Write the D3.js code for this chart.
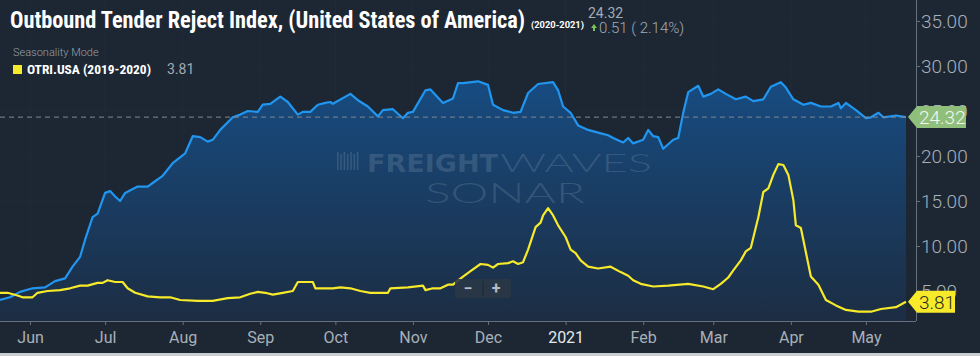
<!DOCTYPE html>
<html><head><meta charset="utf-8">
<script src="https://cdn.jsdelivr.net/npm/d3@7"></script>
<style>html,body{margin:0;padding:0;background:#1d2734;overflow:hidden} svg{display:block}</style>
</head><body>
<svg id="c" width="980" height="356"></svg>
<script>
// ---- DATA ----
const otriDates = [
"2020-05-20","2020-05-24","2020-05-28","2020-06-02","2020-06-07","2020-06-11","2020-06-15","2020-06-18","2020-06-21","2020-06-23",
"2020-06-26","2020-06-28","2020-07-01","2020-07-03","2020-07-05","2020-07-07","2020-07-09","2020-07-14","2020-07-18","2020-07-20",
"2020-07-23","2020-07-24","2020-07-28","2020-08-02","2020-08-05","2020-08-08","2020-08-11","2020-08-13","2020-08-16","2020-08-21",
"2020-08-24","2020-08-27","2020-08-31","2020-09-02","2020-09-05","2020-09-09","2020-09-12","2020-09-16","2020-09-18","2020-09-21",
"2020-09-24","2020-09-27","2020-09-29","2020-09-30","2020-10-07","2020-10-10","2020-10-14","2020-10-18","2020-10-20","2020-10-24",
"2020-10-28","2020-10-30","2020-11-01","2020-11-06","2020-11-08","2020-11-13","2020-11-17","2020-11-19","2020-11-21","2020-11-27",
"2020-12-01","2020-12-03","2020-12-07","2020-12-11","2020-12-14","2020-12-17","2020-12-21","2020-12-27","2020-12-29","2020-12-31",
"2021-01-03","2021-01-06","2021-01-10","2021-01-14","2021-01-18","2021-01-20","2021-01-24","2021-01-26","2021-01-28","2021-02-01",
"2021-02-03","2021-02-05","2021-02-07","2021-02-09","2021-02-13","2021-02-15","2021-02-17","2021-02-19","2021-02-23","2021-02-25",
"2021-02-28","2021-03-03","2021-03-06","2021-03-10","2021-03-14","2021-03-17","2021-03-21","2021-03-24","2021-03-28","2021-03-30",
"2021-04-02","2021-04-06","2021-04-09","2021-04-13","2021-04-17","2021-04-20","2021-04-21","2021-04-23","2021-04-27","2021-05-01",
"2021-05-03","2021-05-06","2021-05-08","2021-05-13","2021-05-17"];
const otriValues = [
4.0,4.3,4.9,5.3,5.4,6.1,6.4,7.7,8.8,10.7,
13.2,13.6,15.9,16.1,15.5,15.0,15.9,16.6,16.6,17.0,
17.6,17.8,19.2,20.3,22.2,22.1,21.6,21.8,22.9,24.3,
24.6,25.0,24.9,25.7,25.8,26.6,26.0,24.6,24.9,24.9,
25.7,25.9,26.0,25.8,26.9,26.2,25.5,24.4,25.1,25.2,
24.2,24.8,24.9,27.3,27.4,25.9,26.4,28.1,28.1,28.3,
27.9,25.7,25.1,24.8,24.9,27.0,28.0,28.2,27.3,25.5,
24.8,23.4,22.9,22.6,22.3,22.0,21.5,22.0,21.4,21.8,
22.9,22.2,22.1,20.8,21.8,22.0,24.8,27.1,27.8,26.6,
26.9,27.4,26.9,26.3,26.6,26.1,26.3,27.7,28.2,27.6,
26.3,25.7,25.9,25.5,25.5,25.9,25.3,25.9,25.1,24.2,
24.3,24.8,24.3,24.5,24.32];

const seasonDates = [
"2020-05-20","2020-05-23","2020-05-27","2020-05-29","2020-06-02","2020-06-04","2020-06-08","2020-06-13","2020-06-17","2020-06-21",
"2020-06-24","2020-06-28","2020-06-30","2020-07-02","2020-07-05","2020-07-08","2020-07-10","2020-07-13","2020-07-18","2020-07-23",
"2020-07-27","2020-07-31","2020-08-07","2020-08-13","2020-08-19","2020-08-24","2020-08-28","2020-08-31","2020-09-03","2020-09-06",
"2020-09-10","2020-09-14","2020-09-16","2020-09-22","2020-09-23","2020-09-30","2020-10-03","2020-10-07","2020-10-11","2020-10-15",
"2020-10-22","2020-10-23","2020-10-30","2020-11-05","2020-11-06","2020-11-09","2020-11-12","2020-11-15","2020-11-17","2020-11-21",
"2020-11-24","2020-11-28","2020-12-01","2020-12-03","2020-12-05","2020-12-09","2020-12-11","2020-12-13","2020-12-15","2020-12-17",
"2020-12-20","2020-12-22","2020-12-23","2020-12-25","2020-12-27","2020-12-29","2021-01-01","2021-01-03","2021-01-05","2021-01-07",
"2021-01-10","2021-01-14","2021-01-19","2021-01-23","2021-01-26","2021-01-28","2021-01-31","2021-02-05","2021-02-11","2021-02-19",
"2021-02-25","2021-03-01","2021-03-04","2021-03-07","2021-03-09","2021-03-12","2021-03-14","2021-03-16","2021-03-19","2021-03-21",
"2021-03-23","2021-03-25","2021-03-27","2021-03-29","2021-03-31","2021-04-02","2021-04-03","2021-04-05","2021-04-07","2021-04-09",
"2021-04-12","2021-04-15","2021-04-19","2021-04-23","2021-04-28","2021-05-03","2021-05-07","2021-05-13","2021-05-17"];
const seasonValues = [
4.8,4.8,4.5,4.3,4.3,4.8,5.0,5.1,5.3,5.6,
5.6,5.9,5.9,6.2,6.0,6.0,5.3,4.8,4.4,4.3,
4.3,4.0,3.9,3.9,4.2,4.3,4.7,4.9,4.8,4.6,
4.8,5.0,6.0,6.0,5.3,5.3,5.4,5.3,5.0,4.8,
4.8,5.3,5.4,5.6,5.1,5.3,5.3,5.7,5.7,6.6,
7.2,8.0,7.9,7.6,8.0,8.1,8.3,8.0,8.2,9.6,
12.1,12.6,13.4,14.2,13.4,12.3,11.0,9.6,9.2,8.4,
7.7,7.5,7.7,7.1,6.7,6.2,5.8,5.5,5.6,5.8,
5.5,5.2,5.8,6.5,7.3,8.4,9.4,9.8,13.2,16.0,
16.4,17.9,19.1,19.0,17.9,15.1,12.3,12.0,9.3,6.6,
5.7,4.0,3.4,2.9,2.7,2.7,3.0,3.2,3.81];

const monthTickDates = ["2020-06-01","2020-07-01","2020-08-01","2020-09-01","2020-10-01","2020-11-01","2020-12-01","2021-01-01","2021-02-01","2021-03-01","2021-04-01","2021-05-01"];
const monthTickLabels = ["Jun","Jul","Aug","Sep","Oct","Nov","Dec","2021","Feb","Mar","Apr","May"];
const yTickValues = [5,10,15,20,25,30,35];
const otriLast = 24.32, seasonLast = 3.81;
const otriChange = 0.51, otriChangePct = 2.14;

// ---- DRAW ----
const parse = d3.utcParse("%Y-%m-%d");
const W = 980, H = 356, plotR = 916, plotB = 321;
const svg = d3.select("#c");
svg.append("rect").attr("width", W).attr("height", H).attr("fill", "#1d2734");

const x = d3.scaleUtc().domain([parse("2020-05-20"), parse("2021-05-21")]).range([0, plotR]);
const y = d3.scaleLinear().domain([1.667, 37.333]).range([plotB, 0]);

const otri = otriDates.map((d, i) => ({date: parse(d), v: otriValues[i]}));
const season = seasonDates.map((d, i) => ({date: parse(d), v: seasonValues[i]}));

const defs = svg.append("defs");
const grad = defs.append("linearGradient").attr("id", "ag").attr("gradientUnits", "userSpaceOnUse")
  .attr("x1", 0).attr("x2", 0).attr("y1", y(28)).attr("y2", plotB);
grad.append("stop").attr("offset", 0).attr("stop-color", "#174b80");
grad.append("stop").attr("offset", 1).attr("stop-color", "#1c2d43");
defs.append("clipPath").attr("id", "pc").append("rect").attr("x", 0).attr("y", 0).attr("width", plotR).attr("height", plotB);

// grid
const grid = svg.append("g");
grid.selectAll("line.v").data(monthTickDates).join("line")
  .attr("x1", d => x(parse(d))).attr("x2", d => x(parse(d))).attr("y1", 0).attr("y2", plotB)
  .attr("stroke", "#ffffff").attr("stroke-opacity", 0.025);
grid.selectAll("line.h").data(yTickValues).join("line")
  .attr("x1", 0).attr("x2", plotR).attr("y1", d => y(d)).attr("y2", d => y(d))
  .attr("stroke", "#ffffff").attr("stroke-opacity", 0.02);

const g = svg.append("g").attr("clip-path", "url(#pc)");
g.append("path").datum(otri)
  .attr("d", d3.area().x(d => x(d.date)).y0(plotB).y1(d => y(d.v)))
  .attr("fill", "url(#ag)");

// watermark
const wm = svg.append("g").attr("fill", "#ffffff").attr("fill-opacity", 0.13);
for (let i = 0; i < 7; i++) {
  wm.append("rect").attr("x", 337 + i * 3.3).attr("y", 152 + (i % 2 ? 2 : 0)).attr("width", 1.6).attr("height", 18 - (i % 2 ? 2 : 0));
}
wm.append("text").attr("x", 367).attr("y", 172).attr("font-family", "DejaVu Sans, Roboto, sans-serif").attr("font-weight", 900)
  .attr("font-size", 24).attr("textLength", 131).attr("lengthAdjust", "spacingAndGlyphs").text("FREIGHT");
wm.append("text").attr("x", 500).attr("y", 172).attr("font-family", "Lato, Roboto, sans-serif").attr("font-weight", 300)
  .attr("font-size", 26).attr("textLength", 152).attr("lengthAdjust", "spacingAndGlyphs").text("WAVES");
wm.append("text").attr("x", 425).attr("y", 203).attr("font-family", "Lato, Roboto, sans-serif").attr("font-weight", 300)
  .attr("font-size", 27).attr("textLength", 160).attr("lengthAdjust", "spacingAndGlyphs").text("SONAR");

// dashed last-value line
svg.append("line").attr("x1", 0).attr("x2", plotR).attr("y1", y(otriLast)).attr("y2", y(otriLast))
  .attr("stroke", "#7f8a92").attr("stroke-width", 1).attr("stroke-dasharray", "5,4");

g.append("path").datum(otri)
  .attr("d", d3.line().x(d => x(d.date)).y(d => y(d.v)))
  .attr("fill", "none").attr("stroke", "#2196f0").attr("stroke-width", 2.2).attr("stroke-linejoin", "round");
g.append("path").datum(season)
  .attr("d", d3.line().x(d => x(d.date)).y(d => y(d.v)))
  .attr("fill", "none").attr("stroke", "#f6ea2b").attr("stroke-width", 2.2).attr("stroke-linejoin", "round");

// axes
const axisCol = "#66717c", labCol = "#a8b0b8";
const yAxis = svg.append("g").attr("transform", `translate(${plotR},0)`)
  .call(d3.axisRight(y).tickValues(yTickValues).tickFormat(d3.format(".2f")).tickSize(4).tickSizeOuter(0).tickPadding(1));
yAxis.select(".domain").attr("stroke", axisCol).attr("d", `M0.5,0V${plotB}`);
yAxis.selectAll(".tick line").attr("stroke", axisCol);
yAxis.selectAll("text").attr("fill", labCol).attr("font-family", "Roboto, sans-serif").attr("font-size", 19).attr("font-weight", 300);

const xAxis = svg.append("g").attr("transform", `translate(0,${plotB})`)
  .call(d3.axisBottom(x).tickValues(monthTickDates.map(parse)).tickFormat((d, i) => monthTickLabels[i]).tickSize(4).tickSizeOuter(0).tickPadding(7));
xAxis.select(".domain").attr("stroke", axisCol).attr("d", `M0,0.5H${plotR}`);
xAxis.selectAll(".tick line").attr("stroke", axisCol);
xAxis.selectAll("text").attr("fill", (d, i) => monthTickLabels[i] === "2021" ? "#e6e9ec" : labCol)
  .attr("font-family", "Roboto, sans-serif").attr("font-size", 16);

// value badges
function badge(v, fill, txtCol, w) {
  const yy = y(v), tip = 908, bx = 917, h = 22;
  svg.append("path").attr("d", `M${tip},${yy} L${bx},${yy - h / 2} H${bx + w} V${yy + h / 2} H${bx} Z`).attr("fill", fill);
  svg.append("text").attr("x", bx + 2).attr("y", yy).attr("dy", "0.36em").attr("fill", txtCol)
    .attr("font-family", "Roboto, sans-serif").attr("font-size", 19).attr("font-weight", 300).text(d3.format(".2f")(v));
}
badge(otriLast, "#8fbf7b", "#f4f6f4", 49);
badge(seasonLast, "#f6ea2b", "#2a2a20", 38);

// zoom buttons
const zb = svg.append("g");
zb.append("rect").attr("x", 455).attr("y", 279).attr("width", 56).attr("height", 19).attr("rx", 2).attr("fill", "#2a3746").attr("fill-opacity", 0.9);
zb.append("line").attr("x1", 483).attr("x2", 483).attr("y1", 281).attr("y2", 296).attr("stroke", "#1d2734");
zb.append("text").attr("x", 468).attr("y", 294).attr("text-anchor", "middle").attr("fill", "#b4bcc4").attr("font-family", "Roboto, sans-serif").attr("font-size", 16).attr("font-weight", 700).text("−");
zb.append("text").attr("x", 496).attr("y", 294).attr("text-anchor", "middle").attr("fill", "#b4bcc4").attr("font-family", "Roboto, sans-serif").attr("font-size", 16).attr("font-weight", 700).text("+");

// header
svg.append("text").attr("x", 10).attr("y", 28).attr("fill", "#ffffff")
  .attr("font-family", "'Roboto Condensed','Liberation Sans Narrow','DejaVu Sans Condensed',Roboto,sans-serif")
  .attr("font-weight", 700).attr("font-size", 23).attr("textLength", 515).attr("lengthAdjust", "spacingAndGlyphs")
  .text("Outbound Tender Reject Index, (United States of America)");
svg.append("text").attr("x", 531).attr("y", 28).attr("fill", "#ffffff").attr("font-family", "Roboto, sans-serif")
  .attr("font-weight", 700).attr("font-size", 8.5).attr("textLength", 53).attr("lengthAdjust", "spacingAndGlyphs").text("(2020-2021)");
svg.append("text").attr("x", 588).attr("y", 18).attr("fill", "#a3abb3").attr("font-family", "Roboto, sans-serif")
  .attr("font-size", 14).text(d3.format(".2f")(otriLast));
svg.append("path").attr("d", "M591,28 l3,-4 l3,4 h-2 v3 h-2 v-3 z").attr("fill", "#7cc25a");
svg.append("text").attr("x", 599).attr("y", 33).attr("fill", "#a3abb3").attr("font-family", "Roboto, sans-serif")
  .attr("font-size", 15).attr("font-weight", 300).text(`${d3.format(".2f")(otriChange)} ( ${d3.format(".2f")(otriChangePct)}%)`);

svg.append("text").attr("x", 13).attr("y", 56).attr("fill", "#98a1aa").attr("font-family", "Roboto, sans-serif")
  .attr("font-size", 11).attr("font-weight", 300).text("Seasonality Mode");
svg.append("rect").attr("x", 13).attr("y", 65).attr("width", 9).attr("height", 9).attr("fill", "#f6ea2b");
svg.append("text").attr("x", 27).attr("y", 74).attr("fill", "#ffffff")
  .attr("font-family", "'Roboto Condensed','Liberation Sans Narrow',Roboto,sans-serif").attr("font-weight", 700)
  .attr("font-size", 13).attr("textLength", 124).attr("lengthAdjust", "spacingAndGlyphs").text("OTRI.USA (2019-2020)");
svg.append("text").attr("x", 167).attr("y", 74).attr("fill", "#a3abb3").attr("font-family", "Roboto, sans-serif")
  .attr("font-size", 14).text(d3.format(".2f")(seasonLast));

// bottom border strip
svg.append("rect").attr("x", 0).attr("y", 353).attr("width", W).attr("height", 3).attr("fill", "#c9cdd1");
</script>
</body></html>
